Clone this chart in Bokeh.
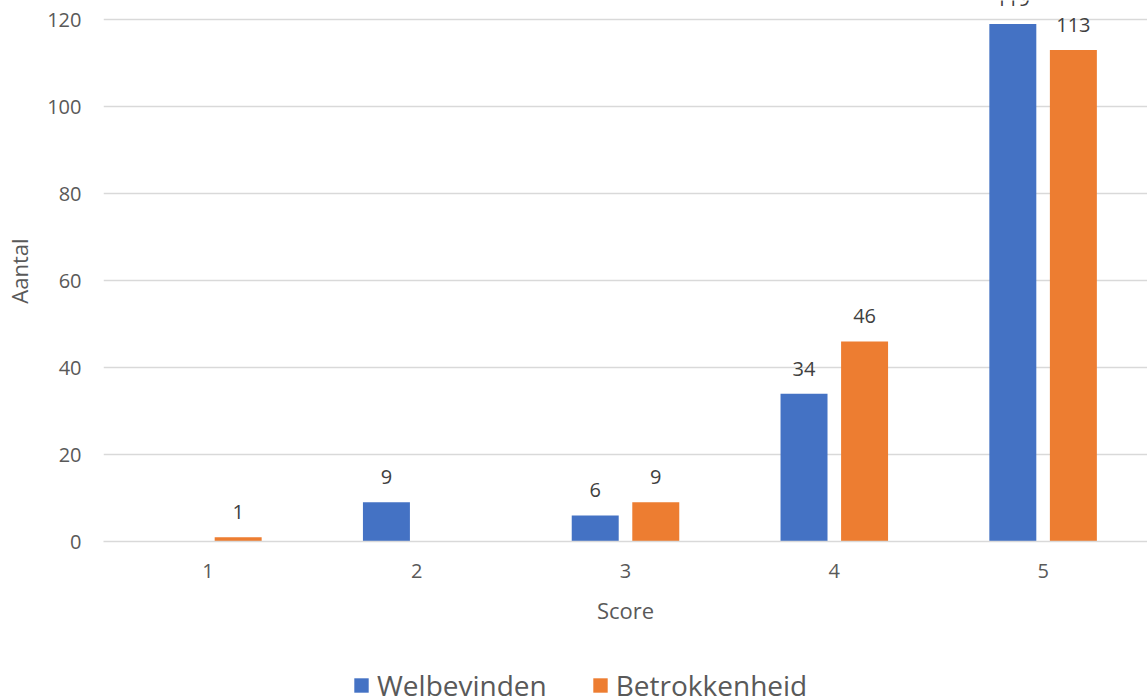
from bokeh.plotting import figure
from bokeh.layouts import column
from bokeh.models import (ColumnDataSource, FactorRange, Range1d, SingleIntervalTicker,
                          Legend, LegendItem)
from bokeh.core.properties import value
from bokeh.transform import dodge
from bokeh.embed import file_html
from bokeh.resources import INLINE

# Scores and how often each was given
categories = ["1", "2", "3", "4", "5"]
welbevinden = [0, 9, 6, 34, 119]
betrokkenheid = [1, 0, 9, 46, 113]
series_names = ["Welbevinden", "Betrokkenheid"]

FONT = "Open Sans"
TICK_COLOR = "#595959"
LABEL_COLOR = "#404040"
GRID_COLOR = "#D9D9D9"
BLUE = "#4472C4"
ORANGE = "#ED7D31"

source = ColumnDataSource(data=dict(
    cat=categories,
    welbevinden=welbevinden,
    betrokkenheid=betrokkenheid,
    welbevinden_txt=[str(v) if v else "" for v in welbevinden],
    betrokkenheid_txt=[str(v) if v else "" for v in betrokkenheid],
))

x_range = FactorRange(factors=categories, range_padding=0)

p = figure(
    x_range=x_range,
    y_range=Range1d(0, 124.4),
    width=1147, height=640,
    min_border_left=103, min_border_right=0, min_border_top=0, min_border_bottom=99,
    output_backend="svg", toolbar_location=None,
)
p.outline_line_color = None
p.background_fill_color = "white"
p.border_fill_color = "white"

offset = 0.145
bar_w = 0.225

p.vbar(x=dodge("cat", -offset, range=x_range), top="welbevinden", width=bar_w,
       source=source, fill_color=BLUE, line_color=None)
p.vbar(x=dodge("cat", offset, range=x_range), top="betrokkenheid", width=bar_w,
       source=source, fill_color=ORANGE, line_color=None)

# value labels above the bars (empty cells get no label)
for col, off in (("welbevinden", -offset), ("betrokkenheid", offset)):
    p.text(x=dodge("cat", off, range=x_range), y=col, text=col + "_txt", source=source,
           text_align="center", text_baseline="alphabetic", y_offset=-25,
           text_font=value(FONT), text_font_size="20px", text_color=LABEL_COLOR)

# y axis
p.yaxis.ticker = SingleIntervalTicker(interval=20)
p.yaxis.axis_line_color = None
p.yaxis.major_tick_line_color = None
p.yaxis.minor_tick_line_color = None
p.yaxis.major_tick_out = 0
p.yaxis.minor_tick_out = 0
p.yaxis.major_label_standoff = 22
p.yaxis.major_label_text_font = FONT
p.yaxis.major_label_text_font_size = "20px"
p.yaxis.major_label_text_color = TICK_COLOR
p.yaxis.axis_label = "Aantal"
p.yaxis.axis_label_text_font = FONT
p.yaxis.axis_label_text_font_size = "22px"
p.yaxis.axis_label_text_font_style = "normal"
p.yaxis.axis_label_text_color = TICK_COLOR
p.yaxis.axis_label_standoff = 10

# x axis
p.xaxis.axis_line_color = GRID_COLOR
p.xaxis.axis_line_width = 1.5
p.xaxis.major_tick_line_color = None
p.xaxis.minor_tick_line_color = None
p.xaxis.major_tick_out = 0
p.xaxis.minor_tick_out = 0
p.xaxis.major_label_standoff = 22
p.xaxis.major_label_text_font = FONT
p.xaxis.major_label_text_font_size = "20px"
p.xaxis.major_label_text_color = TICK_COLOR
p.xaxis.axis_label = "Score"
p.xaxis.axis_label_text_font = FONT
p.xaxis.axis_label_text_font_size = "22px"
p.xaxis.axis_label_text_font_style = "normal"
p.xaxis.axis_label_text_color = TICK_COLOR
p.xaxis.axis_label_standoff = 14

p.xgrid.grid_line_color = None
p.ygrid.grid_line_color = GRID_COLOR
p.ygrid.grid_line_width = 1.5

# legend strip under the chart; its series renderers lie far outside the strip's view
lg = figure(width=1147, height=60, x_range=x_range, y_range=Range1d(1000, 1010),
            min_border=0, x_axis_type=None, y_axis_type=None,
            output_backend="svg", toolbar_location=None)
lg.outline_line_color = None
lg.grid.grid_line_color = None
sw_w = lg.vbar(x=dodge("cat", -offset, range=x_range), top="welbevinden", width=bar_w,
               source=source, fill_color=BLUE, line_color=None)
sw_b = lg.vbar(x=dodge("cat", offset, range=x_range), top="betrokkenheid", width=bar_w,
               source=source, fill_color=ORANGE, line_color=None)

leg = Legend(items=[LegendItem(label=series_names[0], renderers=[sw_w]),
                    LegendItem(label=series_names[1], renderers=[sw_b])])
leg.orientation = "horizontal"
leg.location = (249, -4)
leg.border_line_color = None
leg.background_fill_alpha = 0
leg.padding = 0
leg.margin = 0
leg.spacing = 44
leg.glyph_width = 18
leg.glyph_height = 18
leg.label_standoff = 7
leg.label_text_font = FONT
leg.label_text_font_size = "28px"
leg.label_text_color = TICK_COLOR
lg.add_layout(leg, "center")

layout = column(p, lg, spacing=0)
open("out.html", "w").write(file_html(layout, INLINE))
